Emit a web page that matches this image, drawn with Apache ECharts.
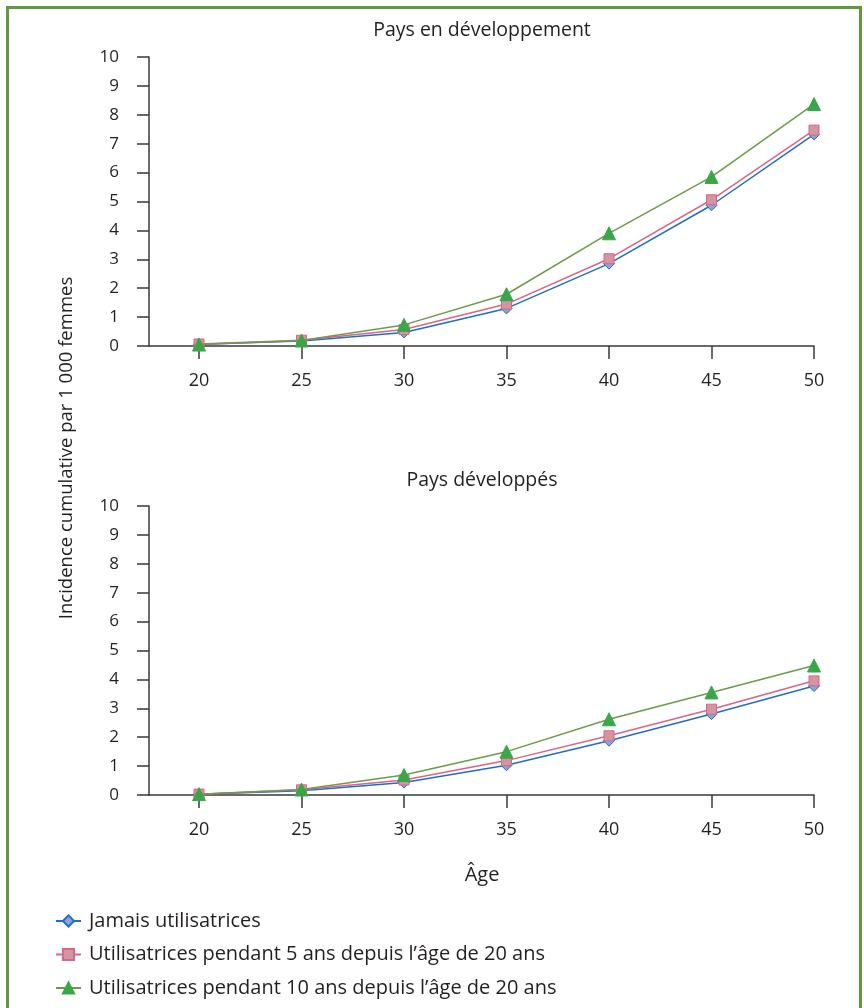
<!DOCTYPE html>
<html>
<head>
<meta charset="utf-8">
<script src="https://cdn.jsdelivr.net/npm/echarts@6/dist/echarts.min.js"></script>
<style>
html,body{margin:0;padding:0;background:#fff;}
#c{width:864px;height:1008px;}
</style>
</head>
<body>
<div id="c"></div>
<script>
const ages = [20, 25, 30, 35, 40, 45, 50];
const yTicks = [0, 1, 2, 3, 4, 5, 6, 7, 8, 9, 10];
const seriesNames = [
  'Jamais utilisatrices',
  'Utilisatrices pendant 5 ans depuis l\u2019âge de 20 ans',
  'Utilisatrices pendant 10 ans depuis l\u2019âge de 20 ans'
];
const chartTitles = ['Pays en développement', 'Pays développés'];
// Pays en développement
const devNever = [0.06, 0.17, 0.47, 1.3, 2.85, 4.87, 7.32];
const dev5 = [0.07, 0.2, 0.57, 1.45, 3.02, 5.06, 7.47];
const dev10 = [0.05, 0.19, 0.73, 1.79, 3.9, 5.85, 8.37];
// Pays développés
const devdNever = [0.03, 0.15, 0.43, 1.03, 1.88, 2.8, 3.77];
const devd5 = [0.03, 0.18, 0.52, 1.19, 2.05, 2.97, 3.95];
const devd10 = [0.03, 0.19, 0.69, 1.5, 2.62, 3.55, 4.48];

const FONT = 'Open Sans';
const TXT = '#231f20';
const AX = '#3a3a3a';

const styles = [
  {line: '#1f6fc0', fill: '#8fa3d8', border: '#1f6fc0', symbol: 'diamond', size: 11},
  {line: '#d9648c', fill: '#d4969e', border: '#d9648c', symbol: 'rect', size: 10},
  {line: '#6f9a4a', fill: '#3aa64a', border: '#3aa64a', symbol: 'triangle', size: 13}
];

function pairs(vals) { return ages.map((a, i) => [a, vals[i]]); }

const grids = [
  {left: 149, right: 50, top: 57, height: 289},
  {left: 149, right: 50, top: 506, height: 289}
];

function xAx(idx) {
  return {
    type: 'value', gridIndex: idx, min: 17.56, max: 50,
    axisLine: {show: true, lineStyle: {color: AX, width: 1.5}},
    axisTick: {show: true, length: 13, customValues: ages, lineStyle: {color: AX, width: 1.5}},
    axisLabel: {customValues: ages, margin: 26, color: TXT, fontFamily: FONT, fontSize: 18},
    splitLine: {show: false}
  };
}
function yAx(idx) {
  return {
    type: 'value', gridIndex: idx, min: 0, max: 10, interval: 1,
    axisLine: {show: true, lineStyle: {color: AX, width: 1.5}},
    axisTick: {show: true, length: 12, lineStyle: {color: AX, width: 1.5}},
    axisLabel: {margin: 30, color: TXT, fontFamily: FONT, fontSize: 17},
    splitLine: {show: false}
  };
}

const dataSets = [[devNever, dev5, dev10], [devdNever, devd5, devd10]];
const series = [];
dataSets.forEach((set, gi) => {
  set.forEach((vals, si) => {
    const s = styles[si];
    series.push({
      name: seriesNames[si], type: 'line',
      xAxisIndex: gi, yAxisIndex: gi,
      data: pairs(vals),
      symbol: s.symbol, symbolSize: s.size,
      lineStyle: {color: s.line, width: 1.5},
      itemStyle: {color: s.fill, borderColor: s.border, borderWidth: 1},
      z: 2 + si,
      animation: false
    });
  });
});

const chart = echarts.init(document.getElementById('c'), null, {renderer: 'canvas'});
chart.setOption({
  animation: false,
  backgroundColor: '#fff',
  grid: grids,
  xAxis: [xAx(0), xAx(1)],
  yAxis: [yAx(0), yAx(1)],
  legend: {
    orient: 'vertical', left: 55, top: 910, padding: 0,
    itemWidth: 25, itemHeight: 14, itemGap: 11.5,
    data: seriesNames,
    textStyle: {fontFamily: FONT, fontSize: 20, color: TXT, lineHeight: 22, padding: [0, 0, 0, 3]},
    selectedMode: false
  },
  graphic: [
    {type: 'rect', shape: {x: 7.5, y: 7.5, width: 853, height: 1010},
     style: {fill: 'none', stroke: '#62963f', lineWidth: 3}, silent: true},
    {type: 'text', x: 482, y: 30,
     style: {text: chartTitles[0], fontFamily: FONT, fontSize: 19.5, fill: TXT, align: 'center', verticalAlign: 'middle'}},
    {type: 'text', x: 482, y: 480,
     style: {text: chartTitles[1], fontFamily: FONT, fontSize: 19.5, fill: TXT, align: 'center', verticalAlign: 'middle'}},
    {type: 'text', x: 67, y: 448, rotation: Math.PI / 2,
     style: {text: 'Incidence cumulative par 1 000 femmes', fontFamily: FONT, fontSize: 18.5,
             fill: TXT, align: 'center', verticalAlign: 'middle'}},
    {type: 'text', x: 482, y: 875,
     style: {text: 'Âge', fontFamily: FONT, fontSize: 20, fill: TXT, align: 'center', verticalAlign: 'middle'}}
  ],
  series: series
});
</script>
</body>
</html>
